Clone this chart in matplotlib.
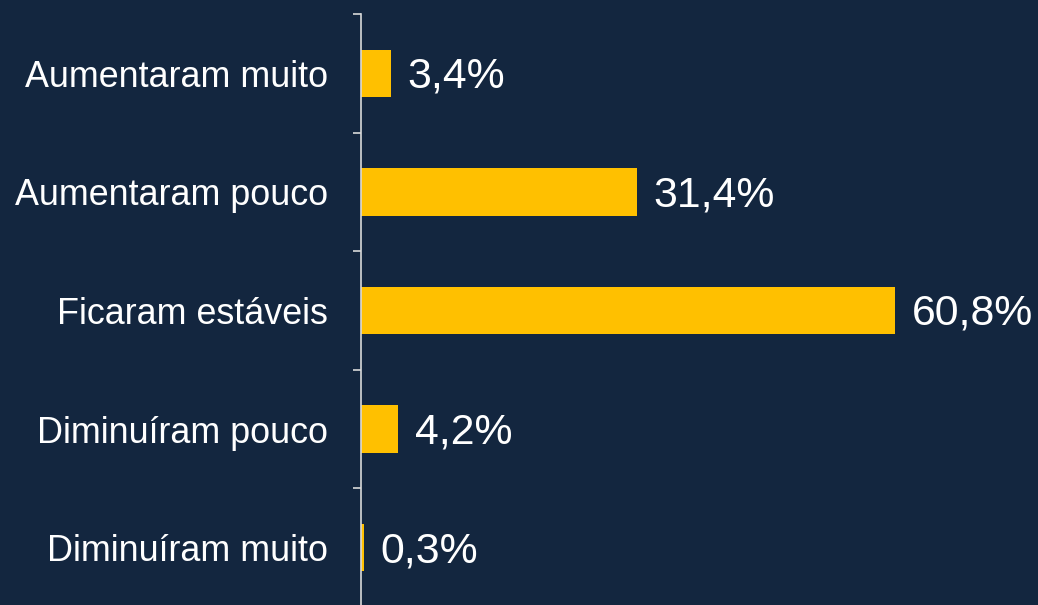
import matplotlib.pyplot as plt
import numpy as np

plt.rcParams['font.family'] = ['Liberation Sans', 'DejaVu Sans']

categorias = ["Aumentaram muito", "Aumentaram pouco", "Ficaram estáveis",
              "Diminuíram pouco", "Diminuíram muito"]
valores = [3.4, 31.4, 60.8, 4.2, 0.3]
rotulos = ["3,4%", "31,4%", "60,8%", "4,2%", "0,3%"]

fundo = "#13263F"
amarelo = "#FFC000"

fig = plt.figure(figsize=(10.38, 6.05), dpi=100, facecolor=fundo)
ax = fig.add_axes([361 / 1038, -2 / 605, 1 - 361 / 1038, 593 / 605])
ax.set_facecolor(fundo)

y = np.arange(len(categorias))
ax.barh(y, valores, height=0.4, color=amarelo)

for yi, v, r in zip(y, valores, rotulos):
    ax.annotate(r, (v, yi), xytext=(12, -2.5), textcoords="offset points",
                va="center", ha="left", color="white", fontsize=30.8)

ax.set_ylim(len(categorias) - 0.5, -0.5)
ax.set_xlim(0, 77.1)

ax.set_yticks(y)
ax.set_yticklabels(categorias, fontsize=25.8, color="white")
ax.tick_params(axis="y", which="major", length=0, pad=24)
ax.set_yticks(np.arange(-0.5, len(categorias), 1), minor=True)
ax.tick_params(axis="y", which="minor", length=6, width=1.2, color="#D9D9D9")
ax.set_xticks([])

for s in ["top", "right", "bottom"]:
    ax.spines[s].set_visible(False)
ax.spines["left"].set_color("#D9D9D9")
ax.spines["left"].set_linewidth(1.2)

fig.savefig("out.png", dpi=100, facecolor=fundo)
